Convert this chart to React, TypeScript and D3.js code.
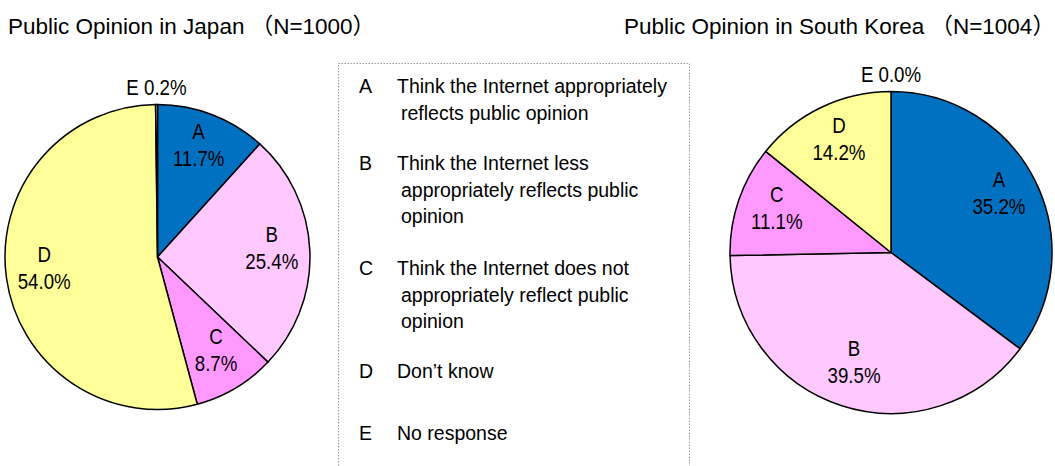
import React from "react";
import * as d3 from "d3";

const categories = ["A", "B", "C", "D", "E"];
const japanValues = [11.7, 25.4, 8.7, 54.0, 0.2];
const koreaValues = [35.2, 39.5, 11.1, 14.2, 0.0];
const colors = ["#0070C0", "#FFC8FF", "#FF99FF", "#FFFF99", "#FFFFFF"];
const japanTitle = "Public Opinion in Japan （N=1000）";
const koreaTitle = "Public Opinion in South Korea （N=1004）";
const legendItems: string[][] = [
  ["Think the Internet appropriately", "reflects public opinion"],
  ["Think the Internet less", "appropriately reflects public", "opinion"],
  ["Think the Internet does not", "appropriately reflect public", "opinion"],
  ["Don’t know"],
  ["No response"],
];

const FONT = "'Liberation Sans', Arial, 'Noto Sans CJK JP', sans-serif";

function Pie({ values, cx, cy, r }: { values: number[]; cx: number; cy: number; r: number }) {
  const pie = d3.pie<number>().sort(null).value((d) => d)(values);
  const arc = d3.arc<d3.PieArcDatum<number>>().innerRadius(0).outerRadius(r);
  const labelArc = d3.arc<d3.PieArcDatum<number>>().innerRadius(r * 0.75).outerRadius(r * 0.75);
  return (
    <g transform={`translate(${cx},${cy})`}>
      {pie.map((p, i) =>
        p.value > 0 ? (
          <path key={i} d={arc(p) || ""} fill={colors[i]} stroke="#000" strokeWidth={1.5} strokeLinejoin="round" />
        ) : null
      )}
      {pie.map((p, i) => {
        const pct = p.value.toFixed(1) + "%";
        if (categories[i] === "E") {
          const mid = (p.startAngle + p.endAngle) / 2;
          const rr = r + 10;
          const x = rr * Math.sin(mid);
          const y = -rr * Math.cos(mid);
          return (
            <text key={"l" + i} transform={`translate(${x},${y}) scale(0.85,1)`} textAnchor="middle" fontSize={22} fontFamily={FONT} fill="#000">
              {categories[i] + " " + pct}
            </text>
          );
        }
        const [x, y] = labelArc.centroid(p);
        return (
          <g key={"l" + i} transform={`translate(${x},${y}) scale(0.85,1)`}>
            <text y={-11} textAnchor="middle" fontSize={22} fontFamily={FONT} fill="#000">{categories[i]}</text>
            <text y={16} textAnchor="middle" fontSize={22} fontFamily={FONT} fill="#000">{pct}</text>
          </g>
        );
      })}
    </g>
  );
}

export default function App() {
  return (
    <svg width={1055} height={466} style={{ position: "absolute", left: 0, top: 0, background: "#fff" }}>
      <rect x={0} y={0} width={1055} height={466} fill="#fff" />
      <text x={8} y={34} fontSize={22.5} fontFamily={FONT} fill="#000">{japanTitle}</text>
      <text x={624} y={34} fontSize={22.5} fontFamily={FONT} fill="#000">{koreaTitle}</text>
      <Pie values={japanValues} cx={157.5} cy={257} r={152.5} />
      <Pie values={koreaValues} cx={891} cy={252.5} r={161} />
      <rect x={338.5} y={63.5} width={351} height={420} fill="none" stroke="#9a9a9a" strokeWidth={1} strokeDasharray="1.5,1.5" />
      {(() => {
        const out: JSX.Element[] = [];
        const starts = [93, 170, 275, 378, 440];
        legendItems.forEach((lines, i) => {
          out.push(
            <text key={"c" + i} x={359} y={starts[i]} fontSize={19.5} fontFamily={FONT} fill="#000">{categories[i]}</text>
          );
          lines.forEach((ln, j) => {
            out.push(
              <text key={"t" + i + "-" + j} x={j === 0 ? 397 : 401} y={starts[i] + j * 26.5} fontSize={19.5} fontFamily={FONT} fill="#000">{ln}</text>
            );
          });
        });
        return out;
      })()}
    </svg>
  );
}
